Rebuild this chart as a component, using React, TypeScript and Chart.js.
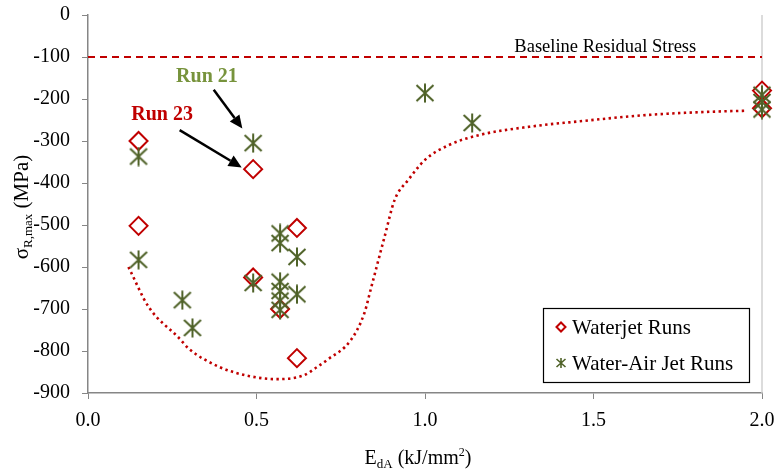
import React, { useEffect, useRef } from 'react';
import { Chart, registerables } from 'chart.js';

Chart.register(...registerables);

// ---- data ----
const waterjetX = [0.15, 0.15, 0.49, 0.49, 0.62, 0.57, 0.62, 2.0, 2.0];
const waterjetY = [-300, -502, -367, -625, -507, -700, -817, -180, -222];

const airjetX = [0.15, 0.15, 0.28, 0.31, 0.49, 0.49, 0.57, 0.57, 0.57, 0.57, 0.57, 0.57, 0.62, 0.62, 1.0, 1.14, 2.0, 2.0, 2.0];
const airjetY = [-337, -583, -679, -745, -305, -638, -520, -543, -635, -657, -680, -702, -576, -665, -186, -257, -190, -207, -225];

const trendX = [0.12, 0.18, 0.27, 0.3, 0.39, 0.48, 0.56, 0.64, 0.68, 0.71, 0.78, 0.82, 0.84, 0.88, 0.91, 0.95, 1.0, 1.07, 1.16, 1.31, 1.46, 1.66, 1.86, 1.95];
const trendY = [-600, -695, -769, -795, -838, -860, -867, -858, -838, -821, -774, -710, -650, -528, -440, -393, -345, -310, -286, -266, -253, -238, -230, -228];

const baselineX = [0, 2];
const baselineY = [-100, -100];

const xTicks = [0, 0.5, 1.0, 1.5, 2.0];
const yMin = -900;
const yMax = 0;

const seriesNames = ['Waterjet Runs', 'Water-Air Jet Runs'];
const baselineLabel = 'Baseline Residual Stress';
const runLabels = ['Run 21', 'Run 23'];

const RED = '#C00000';
const OLIVE = '#4F6228';
const LIGHT_OLIVE = '#77933C';
const AXIS = '#868686';
const FONT = '"Liberation Serif", "Times New Roman", serif';

const toPts = (xs: number[], ys: number[]) => xs.map((x, i) => ({ x, y: ys[i] }));

function makeStar(): HTMLCanvasElement {
  const c = document.createElement('canvas');
  const s = 20;
  c.width = s;
  c.height = s;
  const ctx = c.getContext('2d')!;
  ctx.strokeStyle = OLIVE;
  ctx.lineWidth = 2;
  ctx.beginPath();
  ctx.moveTo(10, 0.5);
  ctx.lineTo(10, 19.5);
  ctx.moveTo(1.5, 2);
  ctx.lineTo(18.5, 18);
  ctx.moveTo(18.5, 2);
  ctx.lineTo(1.5, 18);
  ctx.stroke();
  return c;
}

function drawArrow(ctx: CanvasRenderingContext2D, x1: number, y1: number, x2: number, y2: number) {
  const ang = Math.atan2(y2 - y1, x2 - x1);
  const head = 13;
  const hw = 6;
  const bx = x2 - head * Math.cos(ang);
  const by = y2 - head * Math.sin(ang);
  ctx.save();
  ctx.strokeStyle = '#000';
  ctx.fillStyle = '#000';
  ctx.lineWidth = 2.5;
  ctx.beginPath();
  ctx.moveTo(x1, y1);
  ctx.lineTo(bx, by);
  ctx.stroke();
  ctx.beginPath();
  ctx.moveTo(x2, y2);
  ctx.lineTo(bx + hw * Math.sin(ang), by - hw * Math.cos(ang));
  ctx.lineTo(bx - hw * Math.sin(ang), by + hw * Math.cos(ang));
  ctx.closePath();
  ctx.fill();
  ctx.restore();
}

type Seg = { t: string; size: number; shift: number };
function drawSegs(ctx: CanvasRenderingContext2D, segs: Seg[], cx: number, baseY: number) {
  let total = 0;
  for (const s of segs) {
    ctx.font = `${s.size}px ${FONT}`;
    total += ctx.measureText(s.t).width;
  }
  let x = cx - total / 2;
  ctx.textAlign = 'left';
  ctx.textBaseline = 'alphabetic';
  for (const s of segs) {
    ctx.font = `${s.size}px ${FONT}`;
    ctx.fillText(s.t, x, baseY + s.shift);
    x += ctx.measureText(s.t).width;
  }
}

const borderPlugin = {
  id: 'rightBorder',
  beforeDatasetsDraw(chart: any) {
    const { ctx, chartArea } = chart;
    ctx.save();
    ctx.strokeStyle = '#D0D0D0';
    ctx.lineWidth = 1.5;
    ctx.beginPath();
    ctx.moveTo(chartArea.right, chartArea.top);
    ctx.lineTo(chartArea.right, chartArea.bottom);
    ctx.stroke();
    ctx.restore();
  },
};

const overlayPlugin = {
  id: 'overlay',
  afterDraw(chart: any) {
    const { ctx, scales } = chart;
    const xs = scales.x;
    const ys = scales.y;
    ctx.save();

    // baseline label
    ctx.fillStyle = '#000';
    ctx.font = `18.5px ${FONT}`;
    ctx.textAlign = 'center';
    ctx.textBaseline = 'alphabetic';
    ctx.fillText(baselineLabel, xs.getPixelForValue(1.535), ys.getPixelForValue(-88));

    // run annotations
    ctx.font = `bold 20px ${FONT}`;
    ctx.fillStyle = LIGHT_OLIVE;
    ctx.fillText(runLabels[0], xs.getPixelForValue(0.353), ys.getPixelForValue(-160));
    ctx.fillStyle = RED;
    ctx.fillText(runLabels[1], xs.getPixelForValue(0.22), ys.getPixelForValue(-250));
    drawArrow(ctx, xs.getPixelForValue(0.373), ys.getPixelForValue(-178), xs.getPixelForValue(0.458), ys.getPixelForValue(-270));
    drawArrow(ctx, xs.getPixelForValue(0.272), ys.getPixelForValue(-274), xs.getPixelForValue(0.456), ys.getPixelForValue(-363));

    // legend
    const lx = 543, ly = 308, lw = 206, lh = 74;
    ctx.fillStyle = '#fff';
    ctx.fillRect(lx, ly, lw, lh);
    ctx.strokeStyle = '#000';
    ctx.lineWidth = 1.2;
    ctx.strokeRect(lx + 0.5, ly + 0.5, lw, lh);
    // diamond
    const dx = 561, dy = 327;
    ctx.strokeStyle = RED;
    ctx.lineWidth = 2;
    ctx.beginPath();
    ctx.moveTo(dx - 4.5, dy);
    ctx.lineTo(dx, dy - 4.5);
    ctx.lineTo(dx + 4.5, dy);
    ctx.lineTo(dx, dy + 4.5);
    ctx.closePath();
    ctx.stroke();
    // star
    const sx = 561, sy = 363;
    ctx.strokeStyle = OLIVE;
    ctx.lineWidth = 1.6;
    ctx.beginPath();
    ctx.moveTo(sx, sy - 5);
    ctx.lineTo(sx, sy + 5);
    ctx.moveTo(sx - 4.5, sy - 4);
    ctx.lineTo(sx + 4.5, sy + 4);
    ctx.moveTo(sx + 4.5, sy - 4);
    ctx.lineTo(sx - 4.5, sy + 4);
    ctx.stroke();
    ctx.fillStyle = '#000';
    ctx.font = `21px ${FONT}`;
    ctx.textAlign = 'left';
    ctx.textBaseline = 'middle';
    ctx.fillText(seriesNames[0], 572, dy + 1);
    ctx.fillText(seriesNames[1], 572, sy + 1);

    // x axis title
    ctx.fillStyle = '#000';
    drawSegs(ctx, [
      { t: 'E', size: 20, shift: 0 },
      { t: 'dA', size: 13, shift: 4 },
      { t: ' (kJ/mm', size: 20, shift: 0 },
      { t: '2', size: 12, shift: -8 },
      { t: ')', size: 20, shift: 0 },
    ], 418, 464);

    // y axis title
    ctx.save();
    ctx.translate(28, 207);
    ctx.rotate(-Math.PI / 2);
    drawSegs(ctx, [
      { t: 'σ', size: 21, shift: 0 },
      { t: 'R,max', size: 13, shift: 4 },
      { t: ' (MPa)', size: 21, shift: 0 },
    ], 0, 0);
    ctx.restore();

    ctx.restore();
  },
};

export default function App() {
  const ref = useRef<HTMLCanvasElement | null>(null);

  useEffect(() => {
    document.body.style.margin = '0';
    const canvas = ref.current!;
    const star = makeStar();
    const chart = new Chart(canvas, {
      type: 'scatter',
      data: {
        datasets: [
          {
            label: seriesNames[1],
            data: toPts(airjetX, airjetY),
            pointStyle: star as any,
            pointRadius: 10,
            borderColor: OLIVE,
            backgroundColor: OLIVE,
            clip: false,
          },
          {
            label: seriesNames[0],
            data: toPts(waterjetX, waterjetY),
            pointStyle: 'rectRot',
            pointRadius: 9,
            borderWidth: 2,
            borderColor: RED,
            backgroundColor: 'rgba(0,0,0,0)',
            clip: false,
          },
          {
            label: 'trend',
            data: toPts(trendX, trendY),
            showLine: true,
            pointRadius: 0,
            borderColor: RED,
            borderWidth: 2.6,
            borderDash: [2.4, 3.4],
            cubicInterpolationMode: 'monotone',
            fill: false,
          },
          {
            label: 'baseline',
            data: toPts(baselineX, baselineY),
            showLine: true,
            pointRadius: 0,
            borderColor: RED,
            borderWidth: 2,
            borderDash: [7, 5],
            fill: false,
          },
        ],
      } as any,
      options: {
        animation: false,
        responsive: true,
        maintainAspectRatio: false,
        layout: { padding: { top: 15, right: 15, left: 0, bottom: 0 } },
        plugins: {
          legend: { display: false },
          tooltip: { enabled: false },
        },
        scales: {
          x: {
            type: 'linear',
            min: 0,
            max: 2,
            afterBuildTicks: (s: any) => {
              s.ticks = xTicks.map((v) => ({ value: v }));
            },
            afterFit: (s: any) => {
              s.height = 78;
              s.paddingLeft = 0;
              s.paddingRight = 0;
            },
            ticks: {
              color: '#000',
              font: { family: FONT, size: 20 },
              padding: 10,
              maxRotation: 0,
              callback: (v: any) => Number(v).toFixed(1),
            },
            grid: { display: true, drawOnChartArea: false, drawTicks: true, tickLength: 6, color: AXIS },
            border: { color: AXIS, width: 1.5 },
          },
          y: {
            type: 'linear',
            min: yMin,
            max: yMax,
            afterFit: (s: any) => {
              s.width = 88;
              s.paddingTop = 0;
              s.paddingBottom = 0;
            },
            ticks: {
              stepSize: 100,
              color: '#000',
              font: { family: FONT, size: 20 },
              padding: 12,
            },
            grid: { display: true, drawOnChartArea: false, drawTicks: true, tickLength: 6, color: AXIS },
            border: { color: AXIS, width: 1.5 },
          },
        },
      },
      plugins: [borderPlugin, overlayPlugin],
    } as any);
    return () => chart.destroy();
  }, []);

  return (
    <div style={{ position: 'relative', width: 777, height: 471 }}>
      <canvas ref={ref} />
    </div>
  );
}
